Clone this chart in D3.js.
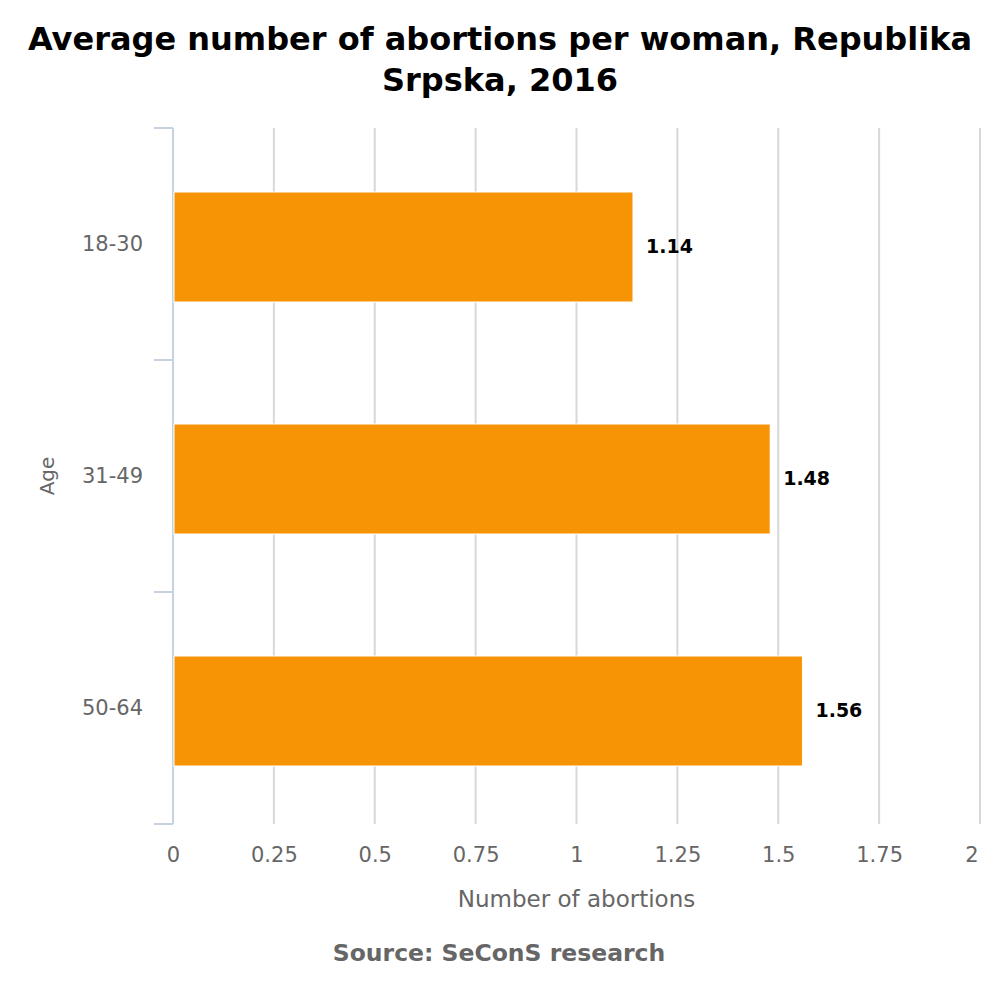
<!DOCTYPE html>
<html>
<head>
<meta charset="utf-8">
<script src="https://cdn.jsdelivr.net/npm/d3@7/dist/d3.min.js"></script>
<style>
  body { margin: 0; background: #fff; }
  svg { font-family: "DejaVu Sans", sans-serif; }
</style>
</head>
<body>
<svg id="chart" width="1000" height="1000"></svg>
<script>
// data
var ageGroups = ['18-30', '31-49', '50-64'];
var abortions = [1.14, 1.48, 1.56];
var xTicks = [0, 0.25, 0.5, 0.75, 1, 1.25, 1.5, 1.75, 2];

var svg = d3.select('#chart');
var margin = { left: 173, right: 20, top: 128, bottom: 176 };
var width = 1000 - margin.left - margin.right;
var height = 1000 - margin.top - margin.bottom;

var x = d3.scaleLinear().domain([0, 2]).range([0, width]);
// one band per category, bar sits inside it
var y = d3.scaleBand().domain(ageGroups).range([0, height]).padding(0);
var barH = 110, barOff = 64;

var g = svg.append('g').attr('transform', 'translate(' + margin.left + ',' + margin.top + ')');

// title
svg.append('text')
  .attr('x', 500).attr('text-anchor', 'middle')
  .style('font-weight', 'bold').style('font-size', '32px').attr('fill', '#000')
  .selectAll('tspan')
  .data(['Average number of abortions per woman, Republika', 'Srpska, 2016'])
  .join('tspan')
  .attr('x', 500)
  .attr('y', function (d, i) { return 50 + i * 41; })
  .text(function (d) { return d; });

// grid
g.append('g')
  .selectAll('line')
  .data(xTicks.slice(1))
  .join('line')
  .attr('x1', function (d) { return x(d); })
  .attr('x2', function (d) { return x(d); })
  .attr('y1', 0).attr('y2', height)
  .attr('stroke', '#d8d8d8').attr('stroke-width', 2);

// x axis labels
var xAxis = g.append('g')
  .attr('transform', 'translate(0,' + height + ')')
  .call(d3.axisBottom(x).tickValues(xTicks).tickSize(0).tickPadding(23)
    .tickFormat(function (d) { return String(d); }));
xAxis.select('.domain').remove();
xAxis.selectAll('text').style('font-size', '21px').attr('fill', '#666').attr('font-family', 'DejaVu Sans');
// last label is pulled inside the chart edge
xAxis.selectAll('text').filter(function (d) { return d === 2; })
  .attr('text-anchor', 'end').attr('x', -2);

// y axis
var catBounds = [0, 1, 2, 3].map(function (i) { return i * height / 3; });
g.append('line')
  .attr('x1', 0).attr('x2', 0).attr('y1', 0).attr('y2', height)
  .attr('stroke', '#c6d2e2').attr('stroke-width', 2);
g.append('g')
  .selectAll('line')
  .data(catBounds)
  .join('line')
  .attr('x1', -19).attr('x2', 0)
  .attr('y1', function (d) { return d; }).attr('y2', function (d) { return d; })
  .attr('stroke', '#c6d2e2').attr('stroke-width', 2);

var yAxis = g.append('g')
  .call(d3.axisLeft(y).tickSize(0).tickPadding(30));
yAxis.select('.domain').remove();
yAxis.selectAll('text').style('font-size', '21px').attr('fill', '#666').attr('font-family', 'DejaVu Sans');

// bars
g.append('g')
  .selectAll('rect')
  .data(ageGroups)
  .join('rect')
  .attr('x', x(0) + 1)
  .attr('y', function (d) { return y(d) + barOff; })
  .attr('width', function (d, i) { return x(abortions[i]) - x(0) - 1; })
  .attr('height', barH)
  .attr('fill', '#f79406')
  .attr('stroke', '#fff').attr('stroke-width', 1);

// value labels
g.append('g')
  .selectAll('text')
  .data(ageGroups)
  .join('text')
  .attr('x', function (d, i) { return x(abortions[i]) + 13; })
  .attr('y', function (d) { return y(d) + barOff + barH / 2 + 6; })
  .style('font-size', '19px').style('font-weight', 'bold').attr('fill', '#000')
  .text(function (d, i) { return abortions[i].toFixed(2); });

// axis titles
svg.append('text')
  .attr('transform', 'translate(54,' + (margin.top + height / 2) + ') rotate(-90)')
  .attr('text-anchor', 'middle')
  .style('font-size', '20px').attr('fill', '#666')
  .text('Age');

svg.append('text')
  .attr('x', margin.left + width / 2).attr('y', 907)
  .attr('text-anchor', 'middle')
  .style('font-size', '23px').attr('fill', '#666')
  .text('Number of abortions');

svg.append('text')
  .attr('x', 499).attr('y', 961)
  .attr('text-anchor', 'middle')
  .style('font-size', '23.5px').style('font-weight', 'bold').attr('fill', '#666')
  .text('Source: SeConS research');
</script>
</body>
</html>
